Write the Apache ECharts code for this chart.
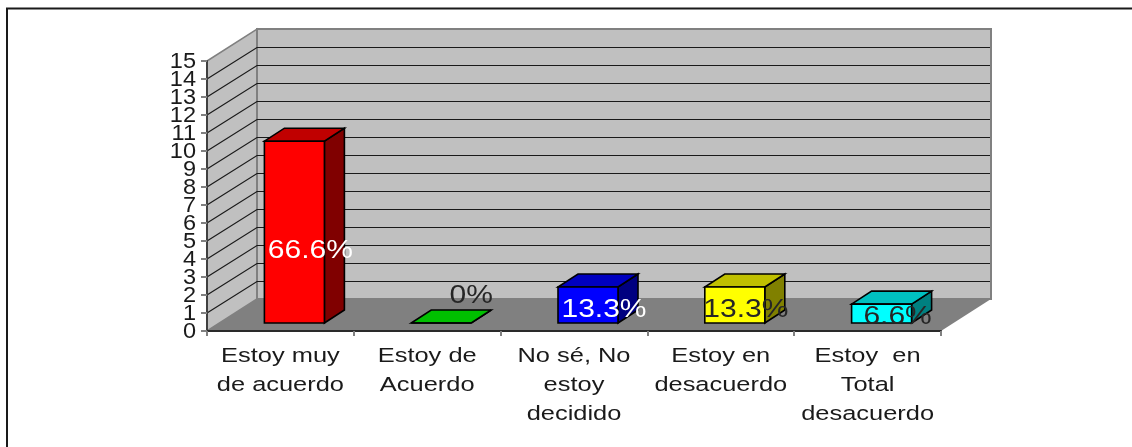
<!DOCTYPE html>
<html>
<head>
<meta charset="utf-8">
<style>html,body{margin:0;padding:0;background:#fff}#c{width:1132px;height:447px}</style>
<script src="https://cdn.jsdelivr.net/npm/echarts@6/dist/echarts.min.js"></script>
</head>
<body>
<div id="c"></div>
<script>
const categories = ['Estoy muy\nde acuerdo', 'Estoy de\nAcuerdo', 'No sé, No\nestoy\ndecidido', 'Estoy en\ndesacuerdo', 'Estoy  en\nTotal\ndesacuerdo'];
const values = [10.1, 0, 2, 2, 1.05];
const dataLabels = ['66.6%', '0%', '13.3%', '13.3%', '6.6%'];
const yTicks = [0, 1, 2, 3, 4, 5, 6, 7, 8, 9, 10, 11, 12, 13, 14, 15];
const barColors = [
  ['#ff0000', '#c00000', '#800000'],
  ['#00ff00', '#00c000', '#008000'],
  ['#0000ff', '#0000c0', '#000080'],
  ['#ffff00', '#c0c000', '#808000'],
  ['#00ffff', '#00c0c0', '#008080']
];
const labelColors = ['#ffffff', '#262626', '#ffffff', '#262626', '#262626'];
// label anchor relative to the bar's front-left corner / base, in pixels
const labelShift = [[46, -72], [60, -27], [46, -13], [41, -13], [46, -6]];

const WALL_DX = 50, WALL_DY = -32;
const BAR_X = 14, BAR_W = 60, BAR_Y0 = -8, BAR_DX = 20, BAR_DY = -13;
const FONT = '"Liberation Sans", Arial, sans-serif';

function wallsItem(params, api) {
  const kids = [];
  const o = api.coord([0, 0]);
  const left = api.size([1, 0])[0];
  const x0 = o[0] - left / 2, x1 = x0 + left * categories.length;
  const yBase = o[1], yTop = api.coord([0, 15])[1];
  kids.push({type: 'polygon', shape: {points: [[x0, yBase], [x0 + WALL_DX, yBase + WALL_DY], [x0 + WALL_DX, yTop + WALL_DY], [x0, yTop]]},
    style: {fill: '#c0c0c0', stroke: '#808080', lineWidth: 1.5}});
  kids.push({type: 'rect', shape: {x: x0 + WALL_DX, y: yTop + WALL_DY, width: x1 - x0, height: yBase - yTop},
    style: {fill: '#c0c0c0', stroke: '#808080', lineWidth: 2}});
  kids.push({type: 'polygon', shape: {points: [[x0, yBase], [x1, yBase], [x1 + WALL_DX, yBase + WALL_DY], [x0 + WALL_DX, yBase + WALL_DY]]},
    style: {fill: '#808080'}});
  for (let v = 1; v < 15; v++) {
    const y = api.coord([0, v])[1];
    kids.push({type: 'polyline', shape: {points: [[x0, y], [x0 + WALL_DX, y + WALL_DY + 0.5], [x1 + WALL_DX - 1, y + WALL_DY + 0.5]]},
      style: {fill: 'none', stroke: '#1a1a1a', lineWidth: 1.2}});
  }
  return {type: 'group', children: kids};
}

function barItem(params, api) {
  const i = params.dataIndex;
  const band = api.size([1, 0])[0];
  const base = api.coord([i, 0]);
  const top = api.coord([i, api.value(1)]);
  const xL = base[0] - band / 2 + BAR_X + (band - BAR_W) / 2, xR = xL + BAR_W;
  const yB = base[1] + BAR_Y0, yT = top[1] + BAR_Y0;
  const c = barColors[i];
  const line = {stroke: '#000', lineWidth: 1.6, lineJoin: 'miter'};
  return {type: 'group', children: [
    {type: 'polygon', shape: {points: [[xR, yB], [xR + BAR_DX, yB + BAR_DY], [xR + BAR_DX, yT + BAR_DY], [xR, yT]]}, style: Object.assign({fill: c[2]}, line)},
    {type: 'polygon', shape: {points: [[xL, yT], [xR, yT], [xR + BAR_DX, yT + BAR_DY], [xL + BAR_DX, yT + BAR_DY]]}, style: Object.assign({fill: c[1]}, line)},
    {type: 'rect', shape: {x: xL, y: yT, width: BAR_W, height: yB - yT}, style: Object.assign({fill: c[0]}, line)}
  ]};
}

function dataLabelItem(params, api) {
  const i = params.dataIndex;
  const band = api.size([1, 0])[0];
  const base = api.coord([i, 0]);
  const xL = base[0] - band / 2 + BAR_X + (band - BAR_W) / 2;
  return {type: 'text', x: xL + labelShift[i][0], y: base[1] + BAR_Y0 + labelShift[i][1], scaleX: 1.2,
    style: {text: dataLabels[i], font: '25px ' + FONT, fill: labelColors[i], align: 'center', verticalAlign: 'middle'}};
}

function catLabelItem(params, api) {
  const i = params.dataIndex;
  const base = api.coord([i, 0]);
  return {type: 'text', x: base[0], y: base[1] + 11, scaleX: 1.24,
    style: {text: categories[i], font: '20.5px ' + FONT, fill: '#1a1a1a', align: 'center', verticalAlign: 'top', lineHeight: 28.8}};
}

function yLabelItem(params, api) {
  const p = api.coord([0, yTicks[params.dataIndex]]);
  const axisX = p[0] - api.size([1, 0])[0] / 2;
  return {type: 'text', x: axisX - 11, y: p[1] + 0.5, scaleX: 1.07,
    style: {text: String(yTicks[params.dataIndex]), font: '22px ' + FONT, fill: '#1a1a1a', align: 'right', verticalAlign: 'middle'}};
}

const idx = categories.map((_, i) => i);
const chart = echarts.init(document.getElementById('c'), null, {renderer: 'canvas'});
chart.setOption({
  animation: false,
  backgroundColor: '#ffffff',
  grid: {left: 207, right: 191, top: 61, bottom: 116},
  xAxis: {
    type: 'category', data: categories, z: 5,
    axisLine: {lineStyle: {color: '#2a2a2a', width: 2}},
    axisTick: {show: true, length: 5, lineStyle: {color: '#808080', width: 2}},
    axisLabel: {show: false}
  },
  yAxis: {
    type: 'value', min: 0, max: 15, interval: 1, z: 5,
    axisLine: {show: true, lineStyle: {color: '#404040', width: 2}},
    axisTick: {show: true, length: 6, lineStyle: {color: '#808080', width: 2}},
    axisLabel: {show: false},
    splitLine: {show: false}
  },
  graphic: [
    {type: 'polyline', z: 10, shape: {points: [[7, 447], [7, 8.5], [1132, 8.5]]}, style: {fill: 'none', stroke: '#1a1a1a', lineWidth: 2}}
  ],
  series: [
    {type: 'custom', name: 'walls', coordinateSystem: 'cartesian2d', data: [[0, 0]], renderItem: wallsItem, silent: true, z: 1},
    {type: 'custom', name: 'bars', coordinateSystem: 'cartesian2d', data: idx.map(i => [i, values[i]]), renderItem: barItem, z: 6, encode: {x: 0, y: 1}},
    {type: 'custom', name: 'dataLabels', coordinateSystem: 'cartesian2d', data: idx.map(i => [i, values[i]]), renderItem: dataLabelItem, z: 7, encode: {x: 0, y: 1}},
    {type: 'custom', name: 'catLabels', coordinateSystem: 'cartesian2d', data: idx.map(i => [i, 0]), renderItem: catLabelItem, z: 7, encode: {x: 0, y: 1}},
    {type: 'custom', name: 'yLabels', coordinateSystem: 'cartesian2d', data: yTicks.map(v => [0, v]), renderItem: yLabelItem, z: 7, encode: {x: 0, y: 1}}
  ]
});
</script>
</body>
</html>
